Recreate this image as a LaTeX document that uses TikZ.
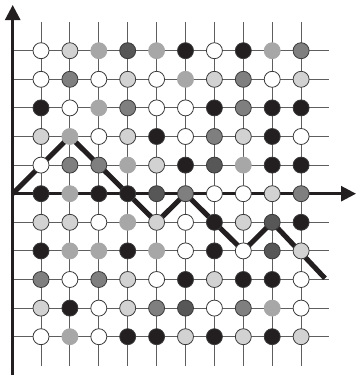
\documentclass[tikz,border=0pt]{standalone}
\usetikzlibrary{arrows.meta}
\definecolor{cw}{HTML}{FFFFFF}
\definecolor{cl}{HTML}{D2D2D2}
\definecolor{ca}{HTML}{A7A7A7}
\definecolor{cg}{HTML}{7F7F7F}
\definecolor{ck}{HTML}{575757}
\definecolor{cb}{HTML}{231F20}
\definecolor{gridc}{HTML}{5E5E5E}
\definecolor{rimc}{HTML}{3A3A3A}
\begin{document}
\begin{tikzpicture}[x=1pt,y=-1pt,
  dot/.style={circle, minimum size=16pt, inner sep=0pt, draw=rimc, line width=0.8pt},
  cW/.style={fill=cw}, cL/.style={fill=cl}, cA/.style={fill=ca, draw=ca},
  cG/.style={fill=cg}, cK/.style={fill=ck}, cB/.style={fill=cb},
  gridline/.style={draw=gridc, line width=0.9pt},
  axis/.style={draw=cb, line width=2.6pt, -{Triangle[length=15pt,width=15pt]}},
  route/.style={draw=cb, line width=5pt, line join=miter}]
\useasboundingbox (0,0) rectangle (356,375);
% grid point coordinates
\foreach \r in {0,...,10} {
  \foreach \c in {0,...,9} {
    \coordinate (p-\r-\c) at ({41+28.9*\c},{50.7+28.6*\r});
  }
  \coordinate (hl-\r) at (13,{50.7+28.6*\r});
  \coordinate (hr-\r) at (329,{50.7+28.6*\r});
}
\foreach \c in {0,...,9} {
  \coordinate (vt-\c) at ({41+28.9*\c},22);
  \coordinate (vb-\c) at ({41+28.9*\c},366);
}
\coordinate (O) at (12.7,193.7);
\coordinate (ytop) at (12.7,5);
\coordinate (ybot) at (12.7,375);
\coordinate (xend) at (356,193.7);
\coordinate (E) at (325,278.3);
% grid
\foreach \r in {0,...,10} { \draw[gridline] (hl-\r) -- (hr-\r); }
\foreach \c in {0,...,9} { \draw[gridline] (vt-\c) -- (vb-\c); }
% axes
\draw[axis] (ybot) -- (ytop);
\draw[axis] (O) -- (xend);
% route
\draw[route] (O) -- (p-3-1) -- (p-6-4) -- (p-5-5) -- (p-7-7) -- (p-6-8) -- (E);
% circles
\foreach \row [count=\r from 0] in {
  {W,L,A,K,A,B,W,B,A,G},
  {W,G,W,L,W,A,L,G,W,L},
  {B,W,A,G,W,W,B,G,B,B},
  {L,A,W,L,B,W,G,L,B,W},
  {W,G,G,A,L,B,K,A,B,B},
  {B,A,B,B,K,G,W,W,L,G},
  {L,L,W,A,L,W,B,L,K,B},
  {B,A,A,B,A,W,B,W,K,L},
  {G,W,G,L,W,B,L,B,B,W},
  {L,B,W,L,G,K,W,G,A,W},
  {W,A,W,B,B,L,B,L,B,L}} {
  \foreach \s [count=\c from 0] in \row {
    \node[dot, c\s] (n-\r-\c) at (p-\r-\c) {};
  }
}
\end{tikzpicture}
\end{document}
